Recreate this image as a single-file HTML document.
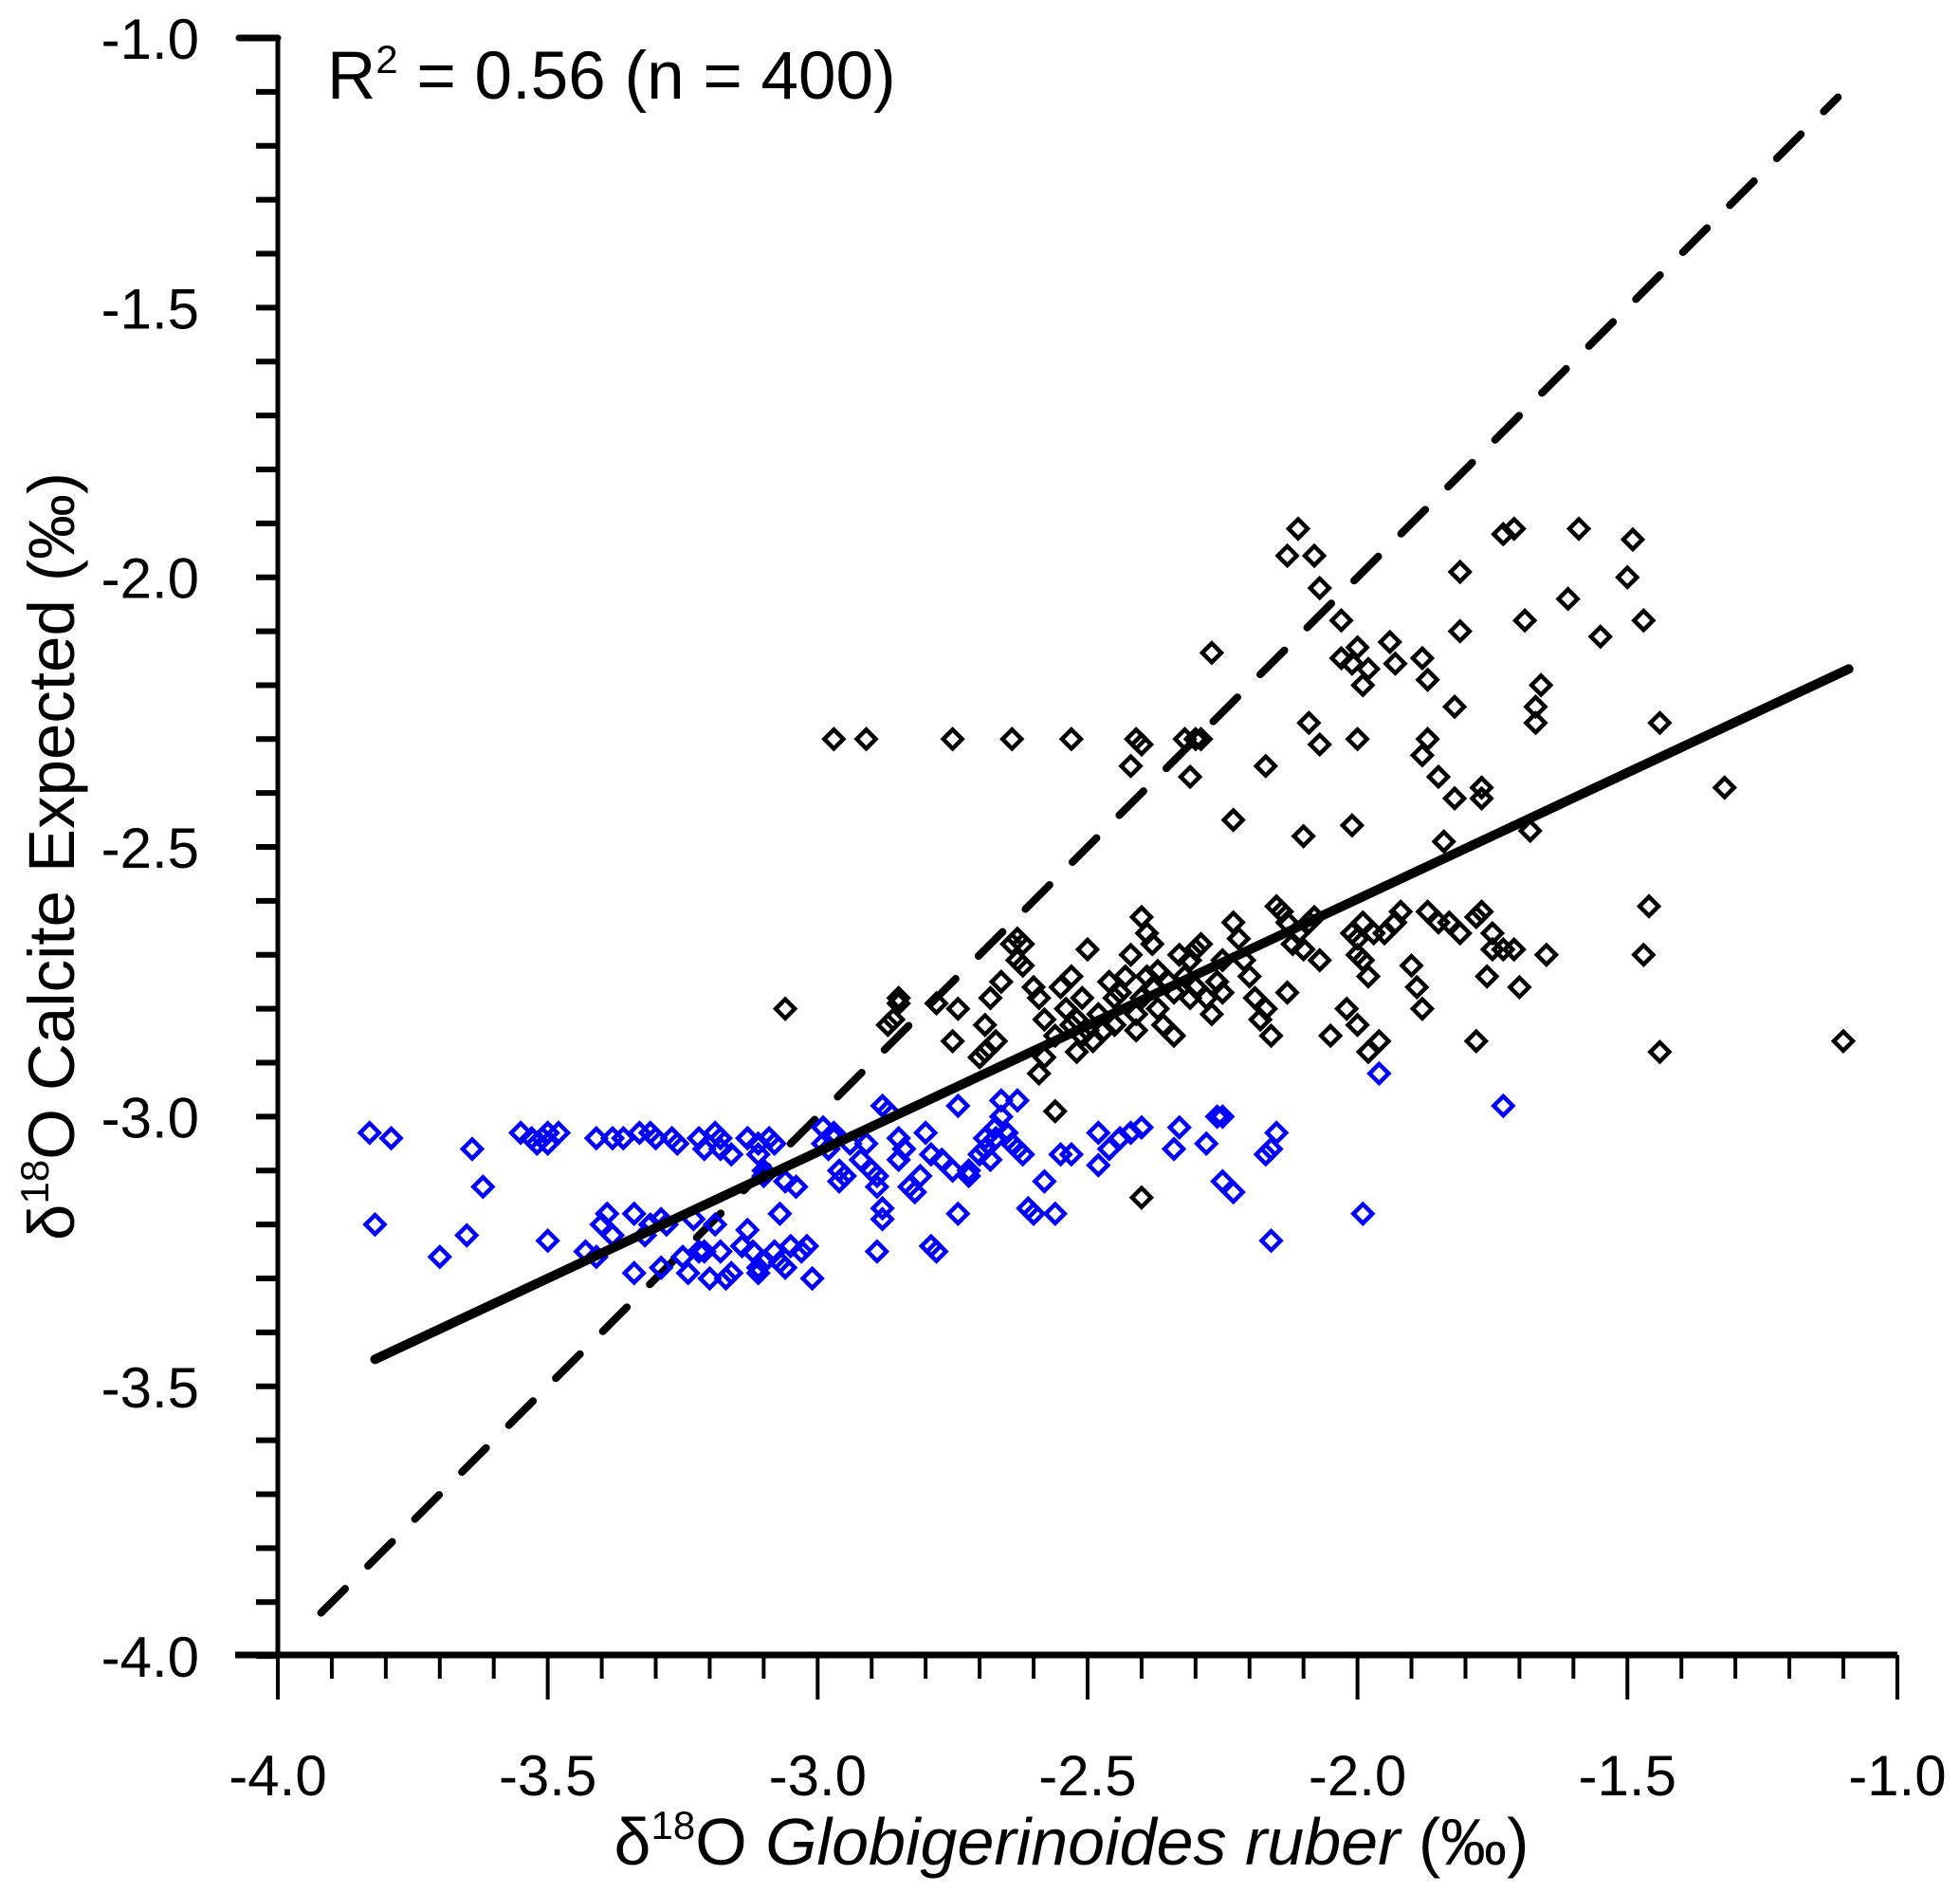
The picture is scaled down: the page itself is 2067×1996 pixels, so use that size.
<!DOCTYPE html>
<html><head><meta charset="utf-8">
<style>
html,body{margin:0;padding:0;background:#fff;}
svg{display:block;font-family:"Liberation Sans",Arial,sans-serif;}
</style></head>
<body>
<svg id="chart" width="2067" height="1996" viewBox="0 0 2067 1996" xmlns="http://www.w3.org/2000/svg">
<g id="dash"></g>
<g id="pts"></g>
<g id="reg"></g>
<g id="axes"></g>
<text x="345" y="104" font-size="71">R<tspan font-size="42" dy="-27">2</tspan><tspan dy="27"> = 0.56 (n = 400)</tspan></text>
<text x="1130" y="1966" font-size="70" text-anchor="middle">δ<tspan font-size="42" dy="-27">18</tspan><tspan dy="27">O </tspan><tspan font-style="italic">Globigerinoides ruber</tspan> (‰)</text>
<text transform="translate(78,903) rotate(-90)" font-size="69" text-anchor="middle">δ<tspan font-size="42" dy="-27">18</tspan><tspan dy="27">O Calcite Expected (‰)</tspan></text>
</svg>
<script>
const xTicks = [-4.0,-3.5,-3.0,-2.5,-2.0,-1.5,-1.0];
const yTicks = [-1.0,-1.5,-2.0,-2.5,-3.0,-3.5,-4.0];
const tickLabels = ["-4.0","-3.5","-3.0","-2.5","-2.0","-1.5","-1.0"];
const yTickLabels = ["-1.0","-1.5","-2.0","-2.5","-3.0","-3.5","-4.0"];
const regX = [-3.82,-1.09];
const regY = [-3.45,-2.17];
const oneX = [-3.92,-1.11];
const oneY = [-3.92,-1.11];
const blackX = [-2.11,-2.13,-2.08,-2.07,-1.73,-1.71,-1.59,-1.49,-1.50,-1.61,-1.55,-1.47,-1.69,-1.81,-1.81,-2.03,-2.03,-2.01,-2.00,-1.99,-1.98,-1.94,-1.93,-1.88,-1.87,-1.82,-1.66,-1.67,-1.67,-1.88,-1.87,-1.85,-1.77,-1.77,-1.82,-1.84,-1.68,-1.44,-1.32,-2.09,-2.07,-2.00,-2.10,-2.01,-2.17,-2.27,-2.23,-2.29,-2.30,-2.32,-2.31,-2.41,-2.40,-2.42,-2.53,-2.64,-2.75,-2.91,-2.97,-3.06,
-2.85,-2.85,-2.86,-2.87,-2.78,-2.74,-2.75,-2.68,-2.67,-2.69,-2.66,-2.63,-2.62,-2.62,-2.60,-2.59,-2.58,-2.58,-2.56,-2.55,-2.53,-2.54,-2.53,-2.52,-2.51,-2.50,-2.49,-2.48,-2.47,-2.46,-2.45,-2.45,-2.44,-2.43,-2.42,-2.41,-2.41,-2.40,-2.39,-2.38,-2.40,-2.39,-2.38,-2.37,-2.37,-2.36,-2.35,-2.34,-2.34,-2.33,-2.32,-2.31,-2.31,-2.30,-2.30,-2.29,-2.28,-2.27,-2.26,-2.25,-2.25,-2.23,-2.22,-2.21,-2.20,-2.19,-2.18,-2.17,-2.16,-2.15,-2.14,-2.13,-2.12,-2.11,-2.10,-2.09,-2.08,-2.07,-2.05,-2.01,-2.00,-2.00,-1.99,-1.99,-2.02,-2.00,-1.98,-1.96,-1.98,-1.97,-1.95,-1.93,-1.92,-1.90,-1.89,-1.88,-1.87,-1.85,-1.83,-1.81,-1.78,-1.77,-1.75,-1.75,-1.76,-1.73,-1.71,-1.70,-1.78,-1.65,-1.47,-1.46,-1.44,-1.10,-2.40,-2.13,-2.64,-2.63,-2.70,-2.69,-2.59,-2.52,-2.51,-2.50,-2.56];
const blackY = [-1.91,-1.96,-1.96,-2.02,-1.92,-1.91,-1.91,-1.93,-2.00,-2.04,-2.11,-2.08,-2.08,-1.99,-2.10,-2.08,-2.15,-2.16,-2.13,-2.20,-2.17,-2.12,-2.16,-2.15,-2.19,-2.24,-2.20,-2.24,-2.27,-2.33,-2.30,-2.37,-2.39,-2.41,-2.41,-2.49,-2.47,-2.27,-2.39,-2.27,-2.31,-2.30,-2.48,-2.46,-2.35,-2.14,-2.45,-2.30,-2.30,-2.30,-2.37,-2.30,-2.31,-2.35,-2.30,-2.30,-2.30,-2.30,-2.30,-2.80,
-2.78,-2.79,-2.82,-2.83,-2.79,-2.80,-2.86,-2.78,-2.86,-2.88,-2.75,-2.67,-2.68,-2.72,-2.76,-2.78,-2.82,-2.89,-2.85,-2.76,-2.74,-2.80,-2.83,-2.82,-2.85,-2.84,-2.86,-2.81,-2.84,-2.75,-2.78,-2.83,-2.77,-2.74,-2.70,-2.81,-2.84,-2.78,-2.74,-2.76,-2.63,-2.66,-2.68,-2.73,-2.80,-2.83,-2.75,-2.77,-2.85,-2.70,-2.74,-2.78,-2.71,-2.69,-2.76,-2.68,-2.78,-2.81,-2.75,-2.71,-2.77,-2.64,-2.67,-2.71,-2.74,-2.78,-2.82,-2.80,-2.85,-2.61,-2.62,-2.64,-2.68,-2.66,-2.69,-2.64,-2.63,-2.71,-2.85,-2.66,-2.67,-2.70,-2.71,-2.64,-2.80,-2.83,-2.88,-2.86,-2.74,-2.66,-2.66,-2.64,-2.62,-2.72,-2.76,-2.80,-2.62,-2.64,-2.64,-2.66,-2.63,-2.62,-2.66,-2.69,-2.74,-2.69,-2.69,-2.76,-2.86,-2.70,-2.70,-2.61,-2.88,-2.86,-3.15,-2.77,-2.68,-2.71,-2.89,-2.83,-2.92,-2.88,-2.78,-2.69,-2.99];
const blueX = [-3.83,-3.79,-3.82,-3.70,-3.65,-3.64,-3.62,-3.55,-3.53,-3.52,-3.51,-3.50,-3.50,-3.48,-3.50,-3.43,-3.41,-3.40,-3.39,-3.38,-3.41,-3.38,-3.36,-3.34,-3.34,-3.33,-3.32,-3.31,-3.31,-3.30,-3.29,-3.29,-3.28,-3.27,-3.26,-3.25,-3.24,-3.23,-3.22,-3.21,-3.22,-3.21,-3.19,-3.18,-3.18,-3.19,-3.18,-3.17,-3.16,-3.16,-3.20,-3.14,-3.13,-3.12,-3.11,-3.11,-3.10,-3.08,-3.07,-3.06,-3.05,-3.03,-3.02,-3.01,-3.13,-3.11,-3.09,-3.08,-3.07,-3.06,-3.04,-3.11,-3.10,-3.13,-3.10,-2.99,-2.99,-2.98,-2.97,-2.97,-2.96,-2.96,-2.95,-2.94,-2.92,-2.91,-2.90,-2.89,-2.89,-2.88,-2.88,-2.89,-2.88,-2.87,-2.85,-2.85,-2.84,-2.83,-2.82,-2.81,-2.80,-2.79,-2.79,-2.78,-2.77,-2.75,-2.74,-2.74,-2.72,-2.72,-2.70,-2.69,-2.69,-2.68,-2.67,-2.67,-2.66,-2.66,-2.65,-2.64,-2.63,-2.63,-2.61,-2.60,-2.62,-2.58,-2.56,-2.55,-2.53,-2.48,-2.48,-2.46,-2.44,-2.42,-2.40,-2.34,-2.33,-2.28,-2.26,-2.25,-2.25,-2.23,-2.17,-2.16,-2.15,-2.16,-1.99,-1.96,-1.73];
const blueY = [-3.03,-3.04,-3.20,-3.26,-3.22,-3.06,-3.13,-3.03,-3.04,-3.05,-3.04,-3.03,-3.05,-3.03,-3.23,-3.25,-3.26,-3.20,-3.18,-3.22,-3.04,-3.04,-3.04,-3.29,-3.18,-3.03,-3.22,-3.03,-3.20,-3.04,-3.19,-3.28,-3.20,-3.04,-3.05,-3.26,-3.29,-3.19,-3.25,-3.25,-3.04,-3.06,-3.03,-3.04,-3.06,-3.20,-3.25,-3.30,-3.29,-3.07,-3.30,-3.24,-3.21,-3.25,-3.28,-3.29,-3.27,-3.25,-3.27,-3.28,-3.24,-3.25,-3.24,-3.30,-3.04,-3.05,-3.04,-3.05,-3.18,-3.12,-3.13,-3.07,-3.10,-3.04,-3.11,-3.02,-3.05,-3.06,-3.03,-3.04,-3.10,-3.12,-3.11,-3.05,-3.08,-3.05,-3.10,-3.11,-3.13,-3.17,-3.19,-3.25,-2.98,-2.99,-3.08,-3.04,-3.06,-3.13,-3.14,-3.11,-3.03,-3.07,-3.24,-3.25,-3.08,-3.10,-2.98,-3.18,-3.11,-3.10,-3.07,-3.06,-3.04,-3.08,-3.04,-3.02,-2.97,-3.00,-3.03,-3.05,-3.06,-2.97,-3.17,-3.18,-3.07,-3.12,-3.18,-3.07,-3.07,-3.09,-3.03,-3.06,-3.04,-3.03,-3.02,-3.06,-3.02,-3.05,-3.00,-3.00,-3.12,-3.14,-3.07,-3.06,-3.03,-3.23,-3.18,-2.92,-2.98];

const NS = "http://www.w3.org/2000/svg";
const X = v => 293 + (v + 4) * 569.3;
const Y = v => 40 + (-1 - v) * 568.7;
function mk(tag, attrs, parent){const e=document.createElementNS(NS,tag);for(const k in attrs)e.setAttribute(k,attrs[k]);parent.appendChild(e);return e;}

const dl = mk('line',{x1:X(oneX[0]),y1:Y(oneY[0]),x2:X(oneX[1]),y2:Y(oneY[1]),stroke:'#000','stroke-width':8,'stroke-dasharray':'36 34','stroke-linecap':'round'},document.getElementById('dash'));



const pts = document.getElementById('pts');
function diamond(vx, vy, color, name){
  const cx = X(vx), cy = Y(vy), r = 10;
  const p = mk('polygon',{points:`${cx},${cy-r} ${cx+r},${cy} ${cx},${cy+r} ${cx-r},${cy}`,fill:'none',stroke:color,'stroke-width':4.5},pts);
  
  
}
for(let i=0;i<blackX.length;i++) diamond(blackX[i], blackY[i], '#000', 'black-point');
for(let i=0;i<blueX.length;i++) diamond(blueX[i], blueY[i], '#0000ff', 'blue-point');

const rl = mk('line',{x1:X(regX[0]),y1:Y(regY[0]),x2:X(regX[1]),y2:Y(regY[1]),stroke:'#000','stroke-width':10,'stroke-linecap':'round'},document.getElementById('reg'));



const ax = document.getElementById('axes');
const yl = mk('line',{x1:293,y1:38,x2:293,y2:1748,stroke:'#000','stroke-width':5},ax);


const xl = mk('line',{x1:248,y1:1745,x2:2001,y2:1745,stroke:'#000','stroke-width':7},ax);


mk('line',{x1:252,y1:40,x2:293,y2:40,stroke:'#000','stroke-width':7,'stroke-linecap':'round'},ax);
for(let k=0;k<=30;k++){
  const v=-4+k*0.1, major=(k%5===0);
  const t = mk('line',{x1:X(v),y1:1745,x2:X(v),y2:1745+(major?47:25),stroke:'#000','stroke-width':4},ax);
  
  
  const u = mk('line',{x1:270,y1:Y(v),x2:293,y2:Y(v),stroke:'#000','stroke-width':6},ax);
  
  
}
xTicks.forEach((v,i)=>{
  const t = mk('text',{x:X(v),y:1893,'font-size':60,'text-anchor':'middle'},ax);
  t.textContent = tickLabels[i];
  
  
});
yTicks.forEach((v,i)=>{
  const t = mk('text',{x:210,y:Y(v)+22,'font-size':60,'text-anchor':'end'},ax);
  t.textContent = yTickLabels[i];
  
  
});
</script>
</body></html>
